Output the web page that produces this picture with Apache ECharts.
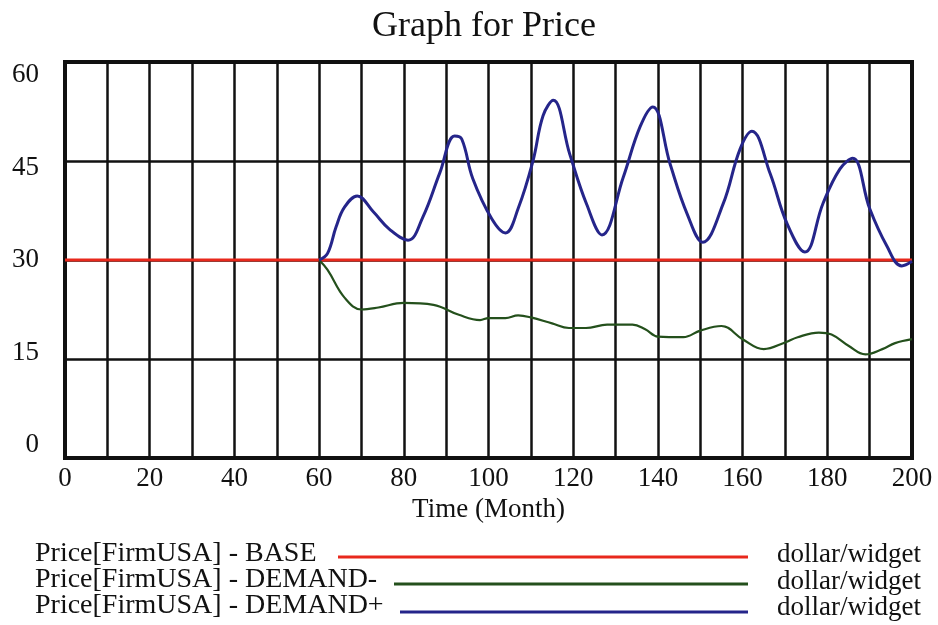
<!DOCTYPE html>
<html><head><meta charset="utf-8">
<script src="https://cdn.jsdelivr.net/npm/echarts@6/dist/echarts.min.js"></script>
<style>html,body{margin:0;padding:0;background:#fff}#c{width:938px;height:625px}</style>
</head><body><div id="c"></div>
<script>
const title = "Graph for Price";
const xAxisName = "Time (Month)";
const yTicks = [0, 15, 30, 45, 60];
const xTicks = [0, 20, 40, 60, 80, 100, 120, 140, 160, 180, 200];
const seriesNames = ["Price[FirmUSA] - BASE", "Price[FirmUSA] - DEMAND-", "Price[FirmUSA] - DEMAND+"];
const units = ["dollar/widget", "dollar/widget", "dollar/widget"];

const baseT = [0, 200];
const baseV = [30, 30];

const demMinusT = [60, 62, 66, 70, 74, 80, 87, 93, 98, 100, 104, 107, 110, 115, 119, 123, 128, 134, 137, 140, 146, 150, 155, 160, 165, 170, 173, 178, 181, 185, 189, 193, 196, 200];
const demMinusV = [30, 28.5, 24.3, 22.5, 22.8, 23.5, 23.2, 21.7, 20.9, 21.2, 21.2, 21.6, 21.3, 20.4, 19.7, 19.7, 20.2, 20.2, 19.5, 18.4, 18.3, 19.3, 20, 18, 16.5, 17.5, 18.3, 19, 18.7, 17, 15.7, 16.5, 17.4, 18];

const demPlusT = [60, 62, 64, 66, 69, 72.8, 76.7, 81, 84.5, 88.5, 92, 93.7, 96.3, 100.8, 104, 107, 110.5, 112.9, 115.3, 119.2, 123.2, 126.8, 131.8, 135.8, 138.8, 142.9, 146.9, 150.6, 155.4, 159.4, 162.2, 166.5, 170.5, 174.7, 179, 183, 186, 190, 194, 197.6, 200];
const demPlusV = [30, 31, 35, 38, 39.7, 37.3, 34.6, 33, 36.5, 43.2, 48.8, 48.3, 42.3, 36.2, 34.1, 37.8, 45, 51.9, 54.2, 46, 38.4, 33.8, 42.5, 50.2, 53.2, 44.5, 37, 32.7, 38.5, 46.8, 49.5, 43.1, 35.5, 31.2, 38.6, 43.8, 45.4, 37.8, 32.2, 29.1, 29.8];

const colors = ["#e8281c", "#24501c", "#25258a"];
const widths = [3, 2.2, 3];

function pairs(t, v) { return t.map((x, i) => [x, v[i]]); }

const chart = echarts.init(document.getElementById('c'));
const FONT = '"Liberation Serif", "Times New Roman", serif';

const graphics = [
  {type: 'text', x: 484, y: 27, style: {text: title, font: '36px ' + FONT, fill: '#111', textAlign: 'center', textVerticalAlign: 'middle'}}
];
const textMid = [554, 580, 606];
const unitMid = [555, 582, 608];
const lineY = [557, 584, 612];
const lineStart = [338, 394, 400];
seriesNames.forEach((n, i) => {
  graphics.push({type: 'text', x: 35, y: textMid[i], style: {text: n, font: '28px ' + FONT, fill: '#111', textVerticalAlign: 'middle'}});
  graphics.push({type: 'line', shape: {x1: lineStart[i], y1: lineY[i], x2: 748, y2: lineY[i]}, style: {stroke: colors[i], lineWidth: 3}});
  graphics.push({type: 'text', x: 777, y: unitMid[i], style: {text: units[i], font: '27px ' + FONT, fill: '#111', textVerticalAlign: 'middle'}});
});

chart.setOption({
  animation: false,
  backgroundColor: '#fff',
  grid: [
    {left: 65, right: 26, top: 62, bottom: 167, show: true, borderColor: '#111', borderWidth: 4, backgroundColor: 'transparent'},
    {left: 65, right: 26, top: 75, bottom: 180, show: false}
  ],
  xAxis: [{
    type: 'value', min: 0, max: 200, interval: 10, gridIndex: 0,
    name: xAxisName, nameLocation: 'middle', nameGap: 33,
    nameTextStyle: {fontFamily: FONT, fontSize: 27, color: '#111'},
    axisLine: {show: true, lineStyle: {color: '#111', width: 4}},
    axisTick: {show: false},
    axisLabel: {margin: 7, fontFamily: FONT, fontSize: 27, color: '#111',
      formatter: v => xTicks.includes(v) ? String(v) : ''},
    splitLine: {show: true, lineStyle: {color: '#111', width: 2.5}}
  }, {
    type: 'value', min: 0, max: 200, gridIndex: 1, show: false
  }],
  yAxis: [{
    type: 'value', min: 0, max: 60, interval: 15, gridIndex: 0,
    axisLine: {show: true, lineStyle: {color: '#111', width: 4}},
    axisTick: {show: false},
    axisLabel: {show: false},
    splitLine: {show: true, lineStyle: {color: '#111', width: 2.5}}
  }, {
    type: 'value', min: 0, max: 60, interval: 15, gridIndex: 1,
    axisLine: {show: false}, axisTick: {show: false}, splitLine: {show: false},
    axisLabel: {margin: 26, fontFamily: FONT, fontSize: 27, color: '#111',
      formatter: v => yTicks.includes(v) ? String(v) : ''}
  }],
  series: [
    {name: seriesNames[0], type: 'line', data: pairs(baseT, baseV), showSymbol: false, lineStyle: {color: colors[0], width: widths[0]}, z: 3},
    {name: seriesNames[1], type: 'line', data: pairs(demMinusT, demMinusV), showSymbol: false, smooth: 0.4, lineStyle: {color: colors[1], width: widths[1]}, z: 4},
    {name: seriesNames[2], type: 'line', data: pairs(demPlusT, demPlusV), showSymbol: false, smooth: 0.4, lineStyle: {color: colors[2], width: widths[2]}, z: 5},
    {type: 'line', xAxisIndex: 1, yAxisIndex: 1, data: [], showSymbol: false, silent: true}
  ],
  graphic: graphics
});
</script></body></html>
